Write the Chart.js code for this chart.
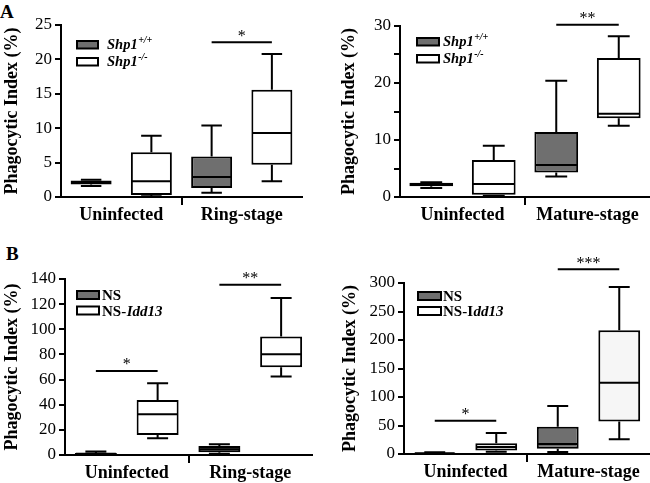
<!DOCTYPE html>
<html><head><meta charset="utf-8">
<script src="https://cdn.jsdelivr.net/npm/chart.js@4.4.0/dist/chart.umd.min.js"></script>
<style>
html,body{margin:0;padding:0;background:#fff;width:650px;height:483px;overflow:hidden;position:relative;}
.p{position:absolute;}
.lbl{position:absolute;font:bold 19px "Liberation Serif","Times New Roman",serif;color:#000;line-height:19px;}
</style></head><body>
<div class="lbl" style="left:0px;top:2px">A</div>
<div class="lbl" style="left:6px;top:244px">B</div>
<div class="p" style="left:0;top:0"><canvas id="c1" width="325" height="240"></canvas></div>
<div class="p" style="left:330px;top:0"><canvas id="c2" width="320" height="240"></canvas></div>
<div class="p" style="left:0;top:240px"><canvas id="c3" width="325" height="243"></canvas></div>
<div class="p" style="left:330px;top:240px"><canvas id="c4" width="320" height="243"></canvas></div>
<script>
// ---------------- DATA ----------------
const catsA1 = ['Uninfected', 'Ring-stage'];
const catsA2 = ['Uninfected', 'Mature-stage'];
const catsB1 = ['Uninfected', 'Ring-stage'];
const catsB2 = ['Uninfected', 'Mature-stage'];

// Panel A left (Shp1+/+ = wt, Shp1-/- = ko)
const A1_wt_min = [1.6, 0.6],  A1_wt_q1 = [1.8, 1.3],  A1_wt_med = [2.1, 2.9],  A1_wt_q3 = [2.4, 5.9],  A1_wt_max = [2.5, 10.4];
const A1_ko_min = [0.1, 2.3],  A1_ko_q1 = [0.3, 4.7],  A1_ko_med = [2.3, 9.3],  A1_ko_q3 = [6.5, 15.6], A1_ko_max = [8.9, 20.8];
// Panel A right
const A2_wt_min = [1.6, 3.6],  A2_wt_q1 = [1.9, 4.3],  A2_wt_med = [2.1, 5.6],  A2_wt_q3 = [2.5, 11.4], A2_wt_max = [2.6, 20.4];
const A2_ko_min = [0.2, 12.5], A2_ko_q1 = [0.4, 13.8], A2_ko_med = [2.3, 14.6], A2_ko_q3 = [6.5, 24.4], A2_ko_max = [9.0, 28.2];
// Panel B left (NS, NS-Idd13)
const B1_ns_min = [0.3, 1.0],   B1_ns_q1 = [0.6, 2.1],   B1_ns_med = [1.0, 4.5],   B1_ns_q3 = [1.5, 7.2],   B1_ns_max = [2.8, 8.5];
const B1_id_min = [13.3, 62.4], B1_id_q1 = [15.9, 69.9], B1_id_med = [32.4, 80.2], B1_id_q3 = [43.8, 94.3], B1_id_max = [57.1, 124.8];
// Panel B right
const B2_ns_min = [0.5, 3.5],   B2_ns_q1 = [1.0, 9.3],   B2_ns_med = [1.5, 17.5],  B2_ns_q3 = [2.0, 48],    B2_ns_max = [3.0, 84];
const B2_id_min = [4.0, 26],    B2_id_q1 = [6.3, 57],    B2_id_med = [12.2, 125],  B2_id_q3 = [19, 217],    B2_id_max = [36.7, 293];

// significance bars: category index, value level, label
const A1_sig = [{cat: 1, y: 22.5, text: '*'}];
const A2_sig = [{cat: 1, y: 30.2, text: '**'}];
const B1_sig = [{cat: 0, y: 66.9, text: '*'}, {cat: 1, y: 135.5, text: '**'}];
const B2_sig = [{cat: 0, y: 58.3, text: '*'}, {cat: 1, y: 324, text: '***'}];

// y axis
const A1_max = 25, A1_step = 5;
const A2_max = 30, A2_step = 5;
const B1_max = 140, B1_step = 20;
const B2_max = 300, B2_step = 50;

// ---------------- RENDERING ----------------
const FONT = '"Liberation Serif","Times New Roman",serif';
const GRAY = '#6f6f6f';

function makePanel(id, cfg) {
  const cv = document.getElementById(id);
  const W = cv.width, H = cv.height;
  const plugin = {
    id: 'boxplotExtras',
    afterDatasetsDraw(chart) {
      const ctx = chart.ctx, ys = chart.scales.y;
      ctx.save();
      ctx.strokeStyle = '#000'; ctx.lineWidth = 2; ctx.lineCap = 'butt';
      chart.data.datasets.forEach((ds, i) => {
        const meta = chart.getDatasetMeta(i);
        meta.data.forEach((el, j) => {
          const x = el.x, w = el.width, cw = w * 0.5;
          const pMin = ys.getPixelForValue(ds.stats.min[j]);
          const pMax = ys.getPixelForValue(ds.stats.max[j]);
          const pMed = ys.getPixelForValue(ds.stats.med[j]);
          const pQ1 = ys.getPixelForValue(ds.data[j][0]);
          const pQ3 = ys.getPixelForValue(ds.data[j][1]);
          ctx.beginPath();
          ctx.moveTo(x, pQ3); ctx.lineTo(x, pMax);
          ctx.moveTo(x - cw / 2, pMax); ctx.lineTo(x + cw / 2, pMax);
          ctx.moveTo(x, pQ1); ctx.lineTo(x, pMin);
          ctx.moveTo(x - cw / 2, pMin); ctx.lineTo(x + cw / 2, pMin);
          ctx.moveTo(x - w / 2 + 1, pMed); ctx.lineTo(x + w / 2 - 1, pMed);
          ctx.stroke();
        });
      });
      cfg.sig.forEach(s => {
        const e0 = chart.getDatasetMeta(0).data[s.cat], e1 = chart.getDatasetMeta(1).data[s.cat];
        const py = ys.getPixelForValue(s.y);
        ctx.beginPath(); ctx.moveTo(e0.x, py); ctx.lineTo(e1.x, py); ctx.stroke();
        ctx.font = '16px ' + FONT; ctx.fillStyle = '#000';
        ctx.textAlign = 'center'; ctx.textBaseline = 'alphabetic';
        ctx.fillText(s.text, (e0.x + e1.x) / 2, py - 1.5);
      });
      ctx.restore();
    },
    afterDraw(chart) {
      const ctx = chart.ctx, L = cfg.legend;
      ctx.save();
      L.items.forEach((it, k) => {
        const ry = L.y + k * L.dy;
        ctx.fillStyle = it.fill; ctx.fillRect(L.x, ry, L.w, L.h);
        ctx.strokeStyle = '#000'; ctx.lineWidth = 2; ctx.strokeRect(L.x, ry, L.w, L.h);
        let tx = L.tx;
        ctx.fillStyle = '#000'; ctx.textAlign = 'left'; ctx.textBaseline = 'alphabetic';
        it.parts.forEach(p => {
          const sz = p.sup ? Math.round(L.size * 0.68) : L.size;
          ctx.font = (p.it ? 'italic ' : '') + 'bold ' + sz + 'px ' + FONT;
          const by = ry + L.h + L.base - (p.sup ? L.size * 0.38 : 0);
          ctx.fillText(p.t, tx, by);
          tx += ctx.measureText(p.t).width + (p.sup ? 0 : 0.5);
        });
      });
      ctx.restore();
    }
  };
  const mkDs = (label, fill, q1, q3, min, med, max) => ({
    label, data: q1.map((v, i) => [v, q3[i]]),
    stats: {min, med, max},
    backgroundColor: fill, borderColor: '#000', borderWidth: 2, borderSkipped: false,
    barPercentage: cfg.barPct, categoryPercentage: 1
  });
  return new Chart(cv, {
    type: 'bar',
    data: {
      labels: cfg.cats,
      datasets: [
        mkDs(cfg.names[0], GRAY, cfg.s0.q1, cfg.s0.q3, cfg.s0.min, cfg.s0.med, cfg.s0.max),
        mkDs(cfg.names[1], cfg.fill1 || '#fff', cfg.s1.q1, cfg.s1.q3, cfg.s1.min, cfg.s1.med, cfg.s1.max)
      ]
    },
    options: {
      responsive: false, animation: false, devicePixelRatio: 1,
      layout: {padding: {top: cfg.area.top, right: W - cfg.area.right, left: 0, bottom: 0}},
      plugins: {legend: {display: false}, tooltip: {enabled: false}},
      scales: {
        x: {
          offset: true,
          grid: {display: true, drawOnChartArea: false, offset: true, tickLength: 8, lineWidth: 2,
                 color: c => (c.index === 1 ? '#000' : 'rgba(0,0,0,0)')},
          border: {display: true, color: '#000', width: 2},
          ticks: {font: {family: FONT, size: 18, weight: 'bold'}, color: '#000', padding: 0, maxRotation: 0},
          afterFit: s => { s.height = H - cfg.area.bottom; }
        },
        y: {
          min: 0, max: cfg.max,
          grid: {drawOnChartArea: false, tickLength: 6, lineWidth: 2, color: '#000'},
          border: {display: true, color: '#000', width: 2},
          ticks: {stepSize: cfg.step, font: {family: FONT, size: 17}, color: '#000', padding: 3,
                  callback: v => (cfg.labelEvery && v % cfg.labelEvery !== 0 ? '' : String(v))},
          title: {display: true, text: 'Phagocytic Index (%)', color: '#000',
                  font: {family: FONT, size: 18, weight: 'bold'}, padding: {top: cfg.titlePad, bottom: 0}},
          afterFit: s => { s.width = cfg.area.left; }
        }
      }
    },
    plugins: [plugin]
  });
}

const legShp = [
  {fill: GRAY, parts: [{t: 'Shp1', it: true}, {t: '+/+', it: true, sup: true}]},
  {fill: '#fff', parts: [{t: 'Shp1', it: true}, {t: '-/-', it: true, sup: true}]}
];

makePanel('c1', {
  cats: catsA1, names: ['Shp1+/+', 'Shp1-/-'], barPct: 0.68,
  s0: {min: A1_wt_min, q1: A1_wt_q1, med: A1_wt_med, q3: A1_wt_q3, max: A1_wt_max},
  s1: {min: A1_ko_min, q1: A1_ko_q1, med: A1_ko_med, q3: A1_ko_q3, max: A1_ko_max},
  sig: A1_sig, max: A1_max, step: A1_step, titlePad: 2,
  area: {left: 61, right: 302, top: 25, bottom: 197},
  legend: {x: 77, y: 41, w: 21, h: 7.5, dy: 17, tx: 107, size: 14.5, base: 0, items: legShp}
});
makePanel('c2', {
  cats: catsA2, names: ['Shp1+/+', 'Shp1-/-'], barPct: 0.7,
  s0: {min: A2_wt_min, q1: A2_wt_q1, med: A2_wt_med, q3: A2_wt_q3, max: A2_wt_max},
  s1: {min: A2_ko_min, q1: A2_ko_q1, med: A2_ko_med, q3: A2_ko_q3, max: A2_ko_max},
  sig: A2_sig, max: A2_max, step: A2_step, labelEvery: 10, titlePad: 9,
  area: {left: 70, right: 320, top: 26, bottom: 197},
  legend: {x: 87, y: 38, w: 22, h: 7.5, dy: 17, tx: 113, size: 14.5, base: 0, items: legShp}
});
makePanel('c3', {
  cats: catsB1, names: ['NS', 'NS-Idd13'], barPct: 0.68,
  s0: {min: B1_ns_min, q1: B1_ns_q1, med: B1_ns_med, q3: B1_ns_q3, max: B1_ns_max},
  s1: {min: B1_id_min, q1: B1_id_q1, med: B1_id_med, q3: B1_id_q3, max: B1_id_max},
  sig: B1_sig, max: B1_max, step: B1_step, titlePad: 2,
  area: {left: 65, right: 312, top: 39, bottom: 215},
  legend: {x: 77, y: 51, w: 22, h: 8, dy: 15.5, tx: 102, size: 15, base: 1,
    items: [
      {fill: GRAY, parts: [{t: 'NS'}]},
      {fill: '#fff', parts: [{t: 'NS-'}, {t: 'Idd13', it: true}]}
    ]}
});
makePanel('c4', {
  cats: catsB2, names: ['NS', 'NS-Idd13'], barPct: 0.68, fill1: '#f6f6f6',
  s0: {min: B2_ns_min, q1: B2_ns_q1, med: B2_ns_med, q3: B2_ns_q3, max: B2_ns_max},
  s1: {min: B2_id_min, q1: B2_id_q1, med: B2_id_med, q3: B2_id_q3, max: B2_id_max},
  sig: B2_sig, max: B2_max, step: B2_step, titlePad: 10,
  area: {left: 74, right: 320, top: 43, bottom: 214},
  legend: {x: 88, y: 52, w: 23, h: 8, dy: 15, tx: 113, size: 15, base: 1,
    items: [
      {fill: GRAY, parts: [{t: 'NS'}]},
      {fill: '#fff', parts: [{t: 'NS-I'}, {t: 'dd13', it: true}]}
    ]}
});
</script>
</body></html>
